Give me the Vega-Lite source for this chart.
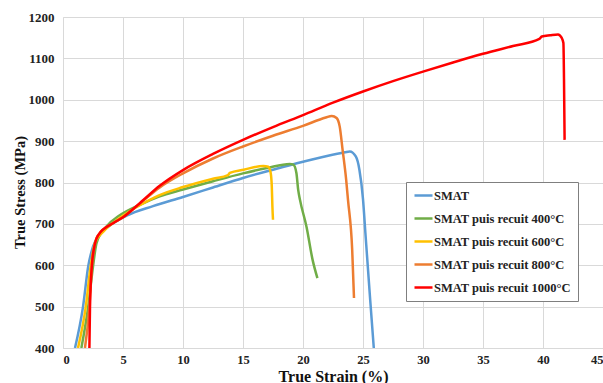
{
  "$schema": "https://vega.github.io/schema/vega-lite/v6.json",
  "width": 540,
  "height": 331,
  "autosize": {"type": "none"},
  "padding": {"left": 63, "top": 17, "right": 0, "bottom": 35},
  "background": "white",
  "config": {
    "view": {"stroke": null},
    "font": "Liberation Serif",
    "axis": {"gridColor": "#d9d9d9", "gridWidth": 1, "domainColor": "#d9d9d9", "ticks": false}
  },
  "data": {"values": [
    {"s":"SMAT","i":1,"x":1.0,"y":400},{"s":"SMAT","i":2,"x":1.67,"y":500},{"s":"SMAT","i":3,"x":2.1,"y":597},{"s":"SMAT","i":4,"x":2.5,"y":645},{"s":"SMAT","i":5,"x":3.06,"y":673},{"s":"SMAT","i":6,"x":4.2,"y":702},{"s":"SMAT","i":7,"x":5.3,"y":720},{"s":"SMAT","i":8,"x":7.5,"y":743},{"s":"SMAT","i":9,"x":10,"y":765},{"s":"SMAT","i":10,"x":12.5,"y":788},{"s":"SMAT","i":11,"x":15,"y":811},{"s":"SMAT","i":12,"x":17.5,"y":831},{"s":"SMAT","i":13,"x":20,"y":850},{"s":"SMAT","i":14,"x":22,"y":864},{"s":"SMAT","i":15,"x":23.5,"y":873},{"s":"SMAT","i":16,"x":23.9,"y":875},{"s":"SMAT","i":17,"x":24.4,"y":863},{"s":"SMAT","i":18,"x":24.7,"y":831},{"s":"SMAT","i":19,"x":25.0,"y":760},{"s":"SMAT","i":20,"x":25.2,"y":678},{"s":"SMAT","i":21,"x":25.6,"y":516},{"s":"SMAT","i":22,"x":25.9,"y":400},
    {"s":"SMAT puis recuit 400°C","i":1,"x":1.53,"y":400},{"s":"SMAT puis recuit 400°C","i":2,"x":2.1,"y":500},{"s":"SMAT puis recuit 400°C","i":3,"x":2.5,"y":597},{"s":"SMAT puis recuit 400°C","i":4,"x":2.8,"y":654},{"s":"SMAT puis recuit 400°C","i":5,"x":3.6,"y":693},{"s":"SMAT puis recuit 400°C","i":6,"x":4.7,"y":720},{"s":"SMAT puis recuit 400°C","i":7,"x":6.4,"y":746},{"s":"SMAT puis recuit 400°C","i":8,"x":8.0,"y":766},{"s":"SMAT puis recuit 400°C","i":9,"x":10,"y":783},{"s":"SMAT puis recuit 400°C","i":10,"x":12.5,"y":803},{"s":"SMAT puis recuit 400°C","i":11,"x":15,"y":822},{"s":"SMAT puis recuit 400°C","i":12,"x":17,"y":835},{"s":"SMAT puis recuit 400°C","i":13,"x":18.9,"y":845},{"s":"SMAT puis recuit 400°C","i":14,"x":19.2,"y":843},{"s":"SMAT puis recuit 400°C","i":15,"x":19.45,"y":823},{"s":"SMAT puis recuit 400°C","i":16,"x":19.6,"y":782},{"s":"SMAT puis recuit 400°C","i":17,"x":19.75,"y":758},{"s":"SMAT puis recuit 400°C","i":18,"x":20.3,"y":692},{"s":"SMAT puis recuit 400°C","i":19,"x":20.8,"y":613},{"s":"SMAT puis recuit 400°C","i":20,"x":21.2,"y":569},
    {"s":"SMAT puis recuit 600°C","i":1,"x":1.25,"y":400},{"s":"SMAT puis recuit 600°C","i":2,"x":1.9,"y":500},{"s":"SMAT puis recuit 600°C","i":3,"x":2.3,"y":597},{"s":"SMAT puis recuit 600°C","i":4,"x":2.66,"y":654},{"s":"SMAT puis recuit 600°C","i":5,"x":3.36,"y":681},{"s":"SMAT puis recuit 600°C","i":6,"x":4.72,"y":714},{"s":"SMAT puis recuit 600°C","i":7,"x":6.4,"y":745},{"s":"SMAT puis recuit 600°C","i":8,"x":8.0,"y":769},{"s":"SMAT puis recuit 600°C","i":9,"x":10,"y":789},{"s":"SMAT puis recuit 600°C","i":10,"x":12.5,"y":809},{"s":"SMAT puis recuit 600°C","i":11,"x":13.75,"y":818},{"s":"SMAT puis recuit 600°C","i":12,"x":13.9,"y":823},{"s":"SMAT puis recuit 600°C","i":13,"x":15.06,"y":831},{"s":"SMAT puis recuit 600°C","i":14,"x":16.7,"y":840},{"s":"SMAT puis recuit 600°C","i":15,"x":17.1,"y":838},{"s":"SMAT puis recuit 600°C","i":16,"x":17.3,"y":824},{"s":"SMAT puis recuit 600°C","i":17,"x":17.4,"y":790},{"s":"SMAT puis recuit 600°C","i":18,"x":17.45,"y":742},{"s":"SMAT puis recuit 600°C","i":19,"x":17.5,"y":710},
    {"s":"SMAT puis recuit 800°C","i":1,"x":1.83,"y":400},{"s":"SMAT puis recuit 800°C","i":2,"x":2.2,"y":500},{"s":"SMAT puis recuit 800°C","i":3,"x":2.4,"y":597},{"s":"SMAT puis recuit 800°C","i":4,"x":2.67,"y":654},{"s":"SMAT puis recuit 800°C","i":5,"x":2.94,"y":673},{"s":"SMAT puis recuit 800°C","i":6,"x":4.2,"y":702},{"s":"SMAT puis recuit 800°C","i":7,"x":5.0,"y":716},{"s":"SMAT puis recuit 800°C","i":8,"x":6.4,"y":749},{"s":"SMAT puis recuit 800°C","i":9,"x":8.06,"y":788},{"s":"SMAT puis recuit 800°C","i":10,"x":10,"y":822},{"s":"SMAT puis recuit 800°C","i":11,"x":12.5,"y":858},{"s":"SMAT puis recuit 800°C","i":12,"x":15,"y":887},{"s":"SMAT puis recuit 800°C","i":13,"x":17.5,"y":913},{"s":"SMAT puis recuit 800°C","i":14,"x":20,"y":937},{"s":"SMAT puis recuit 800°C","i":15,"x":21.9,"y":957},{"s":"SMAT puis recuit 800°C","i":16,"x":22.4,"y":961},{"s":"SMAT puis recuit 800°C","i":17,"x":22.8,"y":956},{"s":"SMAT puis recuit 800°C","i":18,"x":23.06,"y":935},{"s":"SMAT puis recuit 800°C","i":19,"x":23.3,"y":879},{"s":"SMAT puis recuit 800°C","i":20,"x":23.6,"y":806},{"s":"SMAT puis recuit 800°C","i":21,"x":23.75,"y":758},{"s":"SMAT puis recuit 800°C","i":22,"x":24.1,"y":637},{"s":"SMAT puis recuit 800°C","i":23,"x":24.25,"y":521},
    {"s":"SMAT puis recuit 1000°C","i":1,"x":2.2,"y":400},{"s":"SMAT puis recuit 1000°C","i":2,"x":2.25,"y":500},{"s":"SMAT puis recuit 1000°C","i":3,"x":2.4,"y":597},{"s":"SMAT puis recuit 1000°C","i":4,"x":2.67,"y":653},{"s":"SMAT puis recuit 1000°C","i":5,"x":2.94,"y":673},{"s":"SMAT puis recuit 1000°C","i":6,"x":4.2,"y":702},{"s":"SMAT puis recuit 1000°C","i":7,"x":5.0,"y":716},{"s":"SMAT puis recuit 1000°C","i":8,"x":6.4,"y":750},{"s":"SMAT puis recuit 1000°C","i":9,"x":8.06,"y":792},{"s":"SMAT puis recuit 1000°C","i":10,"x":10,"y":830},{"s":"SMAT puis recuit 1000°C","i":11,"x":12.5,"y":869},{"s":"SMAT puis recuit 1000°C","i":12,"x":15,"y":903},{"s":"SMAT puis recuit 1000°C","i":13,"x":17.5,"y":934},{"s":"SMAT puis recuit 1000°C","i":14,"x":20,"y":963},{"s":"SMAT puis recuit 1000°C","i":15,"x":22.5,"y":993},{"s":"SMAT puis recuit 1000°C","i":16,"x":25,"y":1020},{"s":"SMAT puis recuit 1000°C","i":17,"x":27.5,"y":1045},{"s":"SMAT puis recuit 1000°C","i":18,"x":30,"y":1068},{"s":"SMAT puis recuit 1000°C","i":19,"x":32.5,"y":1090},{"s":"SMAT puis recuit 1000°C","i":20,"x":35,"y":1111},{"s":"SMAT puis recuit 1000°C","i":21,"x":37.5,"y":1130},{"s":"SMAT puis recuit 1000°C","i":22,"x":39.7,"y":1147},{"s":"SMAT puis recuit 1000°C","i":23,"x":39.9,"y":1153},{"s":"SMAT puis recuit 1000°C","i":24,"x":40.6,"y":1156},{"s":"SMAT puis recuit 1000°C","i":25,"x":41.25,"y":1158},{"s":"SMAT puis recuit 1000°C","i":26,"x":41.55,"y":1150},{"s":"SMAT puis recuit 1000°C","i":27,"x":41.7,"y":1137},{"s":"SMAT puis recuit 1000°C","i":28,"x":41.75,"y":1050},{"s":"SMAT puis recuit 1000°C","i":29,"x":41.8,"y":903}
  ]},
  "mark": {"type": "line", "strokeWidth": 2.5, "clip": true, "interpolate": "monotone"},
  "encoding": {
    "x": {"field": "x", "type": "quantitative", "scale": {"domain": [0, 45], "nice": false},
      "axis": {"values": [0,5,10,15,20,25,30,35,40,45], "format": "d",
        "labelFont": "Liberation Serif", "labelFontWeight": "bold", "labelFontSize": 12.5, "labelColor": "#222222", "labelPadding": 5,
        "title": "True Strain (%)", "titleFont": "Liberation Serif", "titleFontWeight": "bold", "titleFontSize": 16, "titleColor": "#111111",
        "titleBaseline": "alphabetic", "titleY": 33}},
    "y": {"field": "y", "type": "quantitative", "scale": {"domain": [400, 1200], "nice": false, "zero": false},
      "axis": {"values": [400,500,600,700,800,900,1000,1100,1200], "format": "d",
        "labelFont": "Liberation Serif", "labelFontWeight": "bold", "labelFontSize": 13, "labelColor": "#222222", "labelPadding": 9,
        "title": "True Stress (MPa)", "titleFont": "Liberation Serif", "titleFontWeight": "bold", "titleFontSize": 14.5, "titleColor": "#111111",
        "titleAngle": -90, "titleBaseline": "middle", "titleAlign": "center", "titleX": -43, "titleY": 175}},
    "color": {"field": "s", "type": "nominal",
      "scale": {"domain": ["SMAT","SMAT puis recuit 400°C","SMAT puis recuit 600°C","SMAT puis recuit 800°C","SMAT puis recuit 1000°C"],
                "range": ["#5B9BD5","#70AD47","#FFC000","#ED7D31","#FF0000"]},
      "legend": {"title": null, "orient": "none", "legendX": 343, "legendY": 165,
        "strokeColor": "#7f7f7f", "fillColor": "white", "padding": 7, "clipHeight": 13,
        "symbolType": "stroke", "symbolSize": 324, "symbolStrokeWidth": 2.5, "labelOffset": 0,
        "labelFont": "Liberation Serif", "labelFontWeight": "bold", "labelFontSize": 12.5, "labelColor": "#222222",
        "rowPadding": 10}},
    "order": {"field": "i", "type": "quantitative"}
  }
}
